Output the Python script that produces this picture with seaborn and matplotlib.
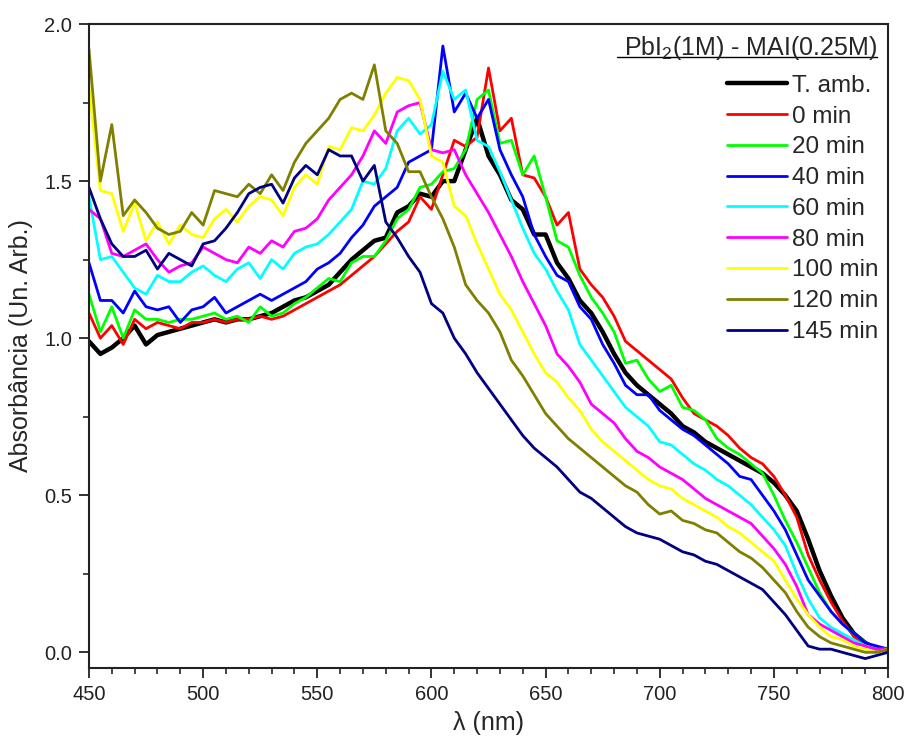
import numpy as np
import pandas as pd
import matplotlib
matplotlib.use("Agg")
import matplotlib.pyplot as plt
from matplotlib.ticker import MultipleLocator, FormatStrFormatter
from matplotlib.transforms import ScaledTranslation
import seaborn as sns

# Wavelength grid (nm)
wavelength = list(range(450, 801, 5))

# Absorbance spectra (arb. units) for each annealing time
t_amb = [0.99, 0.95, 0.97, 1.00, 1.04, 0.98, 1.01, 1.02, 1.03, 1.04,
         1.05, 1.06, 1.05, 1.06, 1.06, 1.07, 1.08, 1.10, 1.12, 1.13,
         1.15, 1.17, 1.21, 1.25, 1.28, 1.31, 1.32, 1.40, 1.42, 1.46,
         1.45, 1.50, 1.50, 1.60, 1.70, 1.58, 1.52, 1.44, 1.41, 1.33,
         1.33, 1.24, 1.19, 1.12, 1.08, 1.02, 0.95, 0.89, 0.85, 0.82,
         0.79, 0.76, 0.72, 0.70, 0.67, 0.65, 0.63, 0.61, 0.59, 0.57,
         0.54, 0.50, 0.45, 0.36, 0.26, 0.18, 0.11, 0.06, 0.03, 0.01,
         0.01]
min_0 = [1.08, 1.00, 1.04, 0.98, 1.06, 1.03, 1.05, 1.04, 1.03, 1.05,
         1.05, 1.06, 1.05, 1.06, 1.06, 1.07, 1.06, 1.07, 1.09, 1.11,
         1.13, 1.15, 1.17, 1.20, 1.23, 1.26, 1.30, 1.34, 1.37, 1.45,
         1.41, 1.52, 1.63, 1.61, 1.64, 1.86, 1.66, 1.70, 1.52, 1.51,
         1.45, 1.36, 1.40, 1.22, 1.17, 1.13, 1.07, 0.99, 0.96, 0.93,
         0.90, 0.87, 0.81, 0.76, 0.74, 0.72, 0.69, 0.65, 0.62, 0.60,
         0.56, 0.50, 0.43, 0.31, 0.23, 0.16, 0.10, 0.05, 0.02, 0.01,
         0.00]
min_20 = [1.14, 1.02, 1.10, 1.00, 1.09, 1.06, 1.06, 1.05, 1.06, 1.06,
          1.07, 1.08, 1.06, 1.07, 1.05, 1.10, 1.07, 1.08, 1.11, 1.13,
          1.16, 1.19, 1.18, 1.24, 1.26, 1.26, 1.31, 1.38, 1.41, 1.48,
          1.49, 1.53, 1.54, 1.60, 1.76, 1.79, 1.62, 1.63, 1.52, 1.58,
          1.45, 1.31, 1.29, 1.20, 1.13, 1.08, 1.02, 0.92, 0.93, 0.87,
          0.83, 0.85, 0.78, 0.77, 0.74, 0.68, 0.65, 0.63, 0.60, 0.57,
          0.50, 0.42, 0.35, 0.27, 0.19, 0.13, 0.09, 0.06, 0.03, 0.01,
          0.01]
min_40 = [1.24, 1.12, 1.12, 1.08, 1.15, 1.10, 1.09, 1.10, 1.05, 1.09,
          1.10, 1.13, 1.08, 1.10, 1.12, 1.14, 1.12, 1.14, 1.16, 1.18,
          1.22, 1.24, 1.27, 1.32, 1.36, 1.42, 1.45, 1.48, 1.56, 1.58,
          1.60, 1.93, 1.72, 1.78, 1.70, 1.76, 1.60, 1.52, 1.45, 1.33,
          1.26, 1.20, 1.18, 1.10, 1.06, 0.98, 0.92, 0.85, 0.82, 0.82,
          0.77, 0.74, 0.71, 0.69, 0.66, 0.63, 0.60, 0.56, 0.55, 0.50,
          0.45, 0.39, 0.31, 0.23, 0.18, 0.13, 0.09, 0.06, 0.03, 0.02,
          0.01]
min_60 = [1.45, 1.25, 1.26, 1.21, 1.16, 1.14, 1.20, 1.18, 1.18, 1.21,
          1.23, 1.20, 1.18, 1.22, 1.24, 1.19, 1.25, 1.22, 1.27, 1.29,
          1.30, 1.33, 1.37, 1.41, 1.50, 1.49, 1.54, 1.66, 1.70, 1.65,
          1.68, 1.85, 1.76, 1.79, 1.63, 1.61, 1.53, 1.44, 1.35, 1.27,
          1.22, 1.15, 1.09, 0.98, 0.93, 0.88, 0.83, 0.78, 0.75, 0.72,
          0.67, 0.66, 0.63, 0.60, 0.58, 0.55, 0.53, 0.50, 0.47, 0.43,
          0.39, 0.34, 0.25, 0.17, 0.11, 0.08, 0.06, 0.04, 0.02, 0.01,
          0.01]
min_80 = [1.41, 1.38, 1.27, 1.26, 1.28, 1.30, 1.25, 1.21, 1.23, 1.24,
          1.29, 1.27, 1.25, 1.24, 1.29, 1.27, 1.31, 1.29, 1.34, 1.35,
          1.38, 1.44, 1.48, 1.52, 1.58, 1.66, 1.62, 1.72, 1.74, 1.75,
          1.60, 1.59, 1.60, 1.52, 1.46, 1.40, 1.33, 1.26, 1.18, 1.11,
          1.04, 0.95, 0.91, 0.86, 0.79, 0.76, 0.73, 0.68, 0.64, 0.62,
          0.59, 0.57, 0.55, 0.52, 0.49, 0.47, 0.45, 0.43, 0.41, 0.37,
          0.33, 0.28, 0.21, 0.12, 0.09, 0.07, 0.05, 0.03, 0.02, 0.01,
          0.01]
min_100 = [1.80, 1.47, 1.46, 1.34, 1.43, 1.31, 1.37, 1.30, 1.36, 1.33,
           1.32, 1.38, 1.41, 1.37, 1.42, 1.45, 1.44, 1.39, 1.48, 1.52,
           1.49, 1.61, 1.60, 1.67, 1.66, 1.71, 1.78, 1.83, 1.82, 1.76,
           1.58, 1.56, 1.42, 1.39, 1.30, 1.22, 1.14, 1.09, 1.02, 0.95,
           0.89, 0.86, 0.81, 0.77, 0.71, 0.67, 0.64, 0.61, 0.58, 0.55,
           0.53, 0.52, 0.49, 0.47, 0.45, 0.43, 0.40, 0.38, 0.35, 0.32,
           0.29, 0.23, 0.17, 0.12, 0.08, 0.05, 0.04, 0.02, 0.01, 0.00,
           0.01]
min_120 = [1.92, 1.50, 1.68, 1.39, 1.44, 1.40, 1.35, 1.33, 1.34, 1.40,
           1.36, 1.47, 1.46, 1.45, 1.49, 1.46, 1.52, 1.47, 1.56, 1.62,
           1.66, 1.70, 1.76, 1.78, 1.76, 1.87, 1.66, 1.62, 1.53, 1.53,
           1.45, 1.38, 1.29, 1.17, 1.12, 1.08, 1.02, 0.93, 0.88, 0.82,
           0.76, 0.72, 0.68, 0.65, 0.62, 0.59, 0.56, 0.53, 0.51, 0.47,
           0.44, 0.45, 0.42, 0.41, 0.39, 0.38, 0.35, 0.32, 0.30, 0.27,
           0.23, 0.19, 0.13, 0.08, 0.05, 0.03, 0.02, 0.01, 0.00, 0.00,
           0.01]
min_145 = [1.48, 1.38, 1.30, 1.26, 1.26, 1.28, 1.22, 1.27, 1.25, 1.23,
           1.30, 1.31, 1.35, 1.40, 1.46, 1.48, 1.49, 1.43, 1.51, 1.55,
           1.52, 1.60, 1.58, 1.58, 1.50, 1.55, 1.37, 1.32, 1.26, 1.21,
           1.11, 1.08, 1.00, 0.95, 0.89, 0.84, 0.79, 0.74, 0.69, 0.65,
           0.62, 0.59, 0.55, 0.51, 0.49, 0.46, 0.43, 0.40, 0.38, 0.37,
           0.36, 0.34, 0.32, 0.31, 0.29, 0.28, 0.26, 0.24, 0.22, 0.20,
           0.16, 0.12, 0.07, 0.02, 0.01, 0.01, 0.00, -0.01, -0.02, -0.01,
           0.00]

labels = ["T. amb.", "0 min", "20 min", "40 min", "60 min",
          "80 min", "100 min", "120 min", "145 min"]
spectra = [t_amb, min_0, min_20, min_40, min_60,
           min_80, min_100, min_120, min_145]
colors = ["#000000", "#FF0000", "#00FF00", "#0000FF", "#00FFFF",
          "#FF00FF", "#FFFF00", "#808000", "#000080"]
widths = [3.2] + [2.0] * 8

df = pd.concat(
    [pd.DataFrame({"wl": wavelength, "abs": s, "serie": lab})
     for lab, s in zip(labels, spectra)],
    ignore_index=True)

sns.set_style("ticks")
plt.rcParams["font.family"] = ["Liberation Sans", "DejaVu Sans"]
plt.rcParams["mathtext.fontset"] = "custom"
plt.rcParams["mathtext.rm"] = "Liberation Sans"
plt.rcParams["mathtext.it"] = "Liberation Sans:italic"

fig = plt.figure(figsize=(9.06, 7.37), dpi=100)
ax = fig.add_axes([0.0982, 0.0936, 0.882, 0.8738])

for lab, col, lw in zip(labels, colors, widths):
    sns.lineplot(data=df[df["serie"] == lab], x="wl", y="abs",
                 color=col, linewidth=lw, label=lab, ax=ax,
                 estimator=None, sort=False)

ax.set_xlim(450, 800)
ax.set_ylim(-0.05, 2.0)
ax.xaxis.set_major_locator(MultipleLocator(50))
ax.xaxis.set_minor_locator(MultipleLocator(10))
ax.yaxis.set_major_locator(MultipleLocator(0.5))
ax.yaxis.set_minor_locator(MultipleLocator(0.25))
ax.yaxis.set_major_formatter(FormatStrFormatter("%.1f"))
ax.tick_params(which="major", direction="out", length=7, width=1.3,
               labelsize=14.5, colors="#222222", pad=5)
ax.tick_params(which="minor", direction="out", length=4, width=1.2)
ax.tick_params(top=False, right=False)
for sp in ax.spines.values():
    sp.set_linewidth(1.5)
    sp.set_color("#222222")

ax.set_xlabel("λ (nm)", fontsize=18, labelpad=5)
ax.set_ylabel("Absorbância (Un. Arb.)", fontsize=18, labelpad=8)

leg = ax.legend(loc="upper right", bbox_to_anchor=(0.9875, 0.921),
                frameon=False, fontsize=17.5, handlelength=2.45,
                handletextpad=0.2, labelspacing=0.36, borderaxespad=0,
                borderpad=0)

title = ax.text(0.9865, 0.952, "PbI$_2$(1M) - MAI(0.25M)",
                transform=ax.transAxes, ha="right", va="baseline",
                fontsize=18)
fig.canvas.draw()
bb = title.get_window_extent()
under = ax.transAxes + ScaledTranslation(0, -2.5 / 100, fig.dpi_scale_trans)
x0 = ax.transAxes.inverted().transform((bb.x0 - 7, 0))[0]
x1 = ax.transAxes.inverted().transform((bb.x1, 0))[0]
ax.plot([x0, x1], [0.952, 0.952], transform=under, color="black",
        lw=1.0, clip_on=False)

fig.savefig("out.png", dpi=100)
